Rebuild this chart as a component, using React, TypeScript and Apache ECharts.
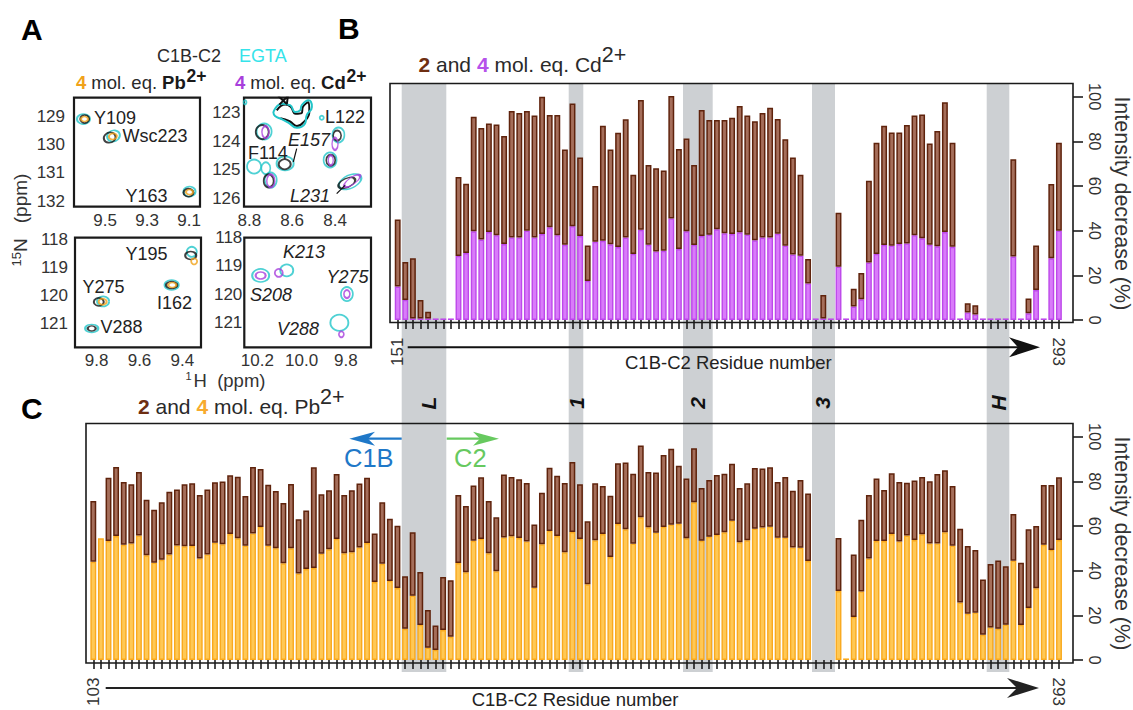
import React, { useEffect, useRef } from "react";
import * as echarts from "echarts";

// Panel B: intensity decrease (%) per assigned residue, Cd2+
const cd2 = [45,26,27.6,9,3.7,0.7,0.7,0.7,64,61,91,86,88,87.6,82.4,93.6,92.7,93.6,91.6,100,91.8,91.8,76.4,96.9,72.8,33.4,60,87,76.4,83.9,89.9,65,98.5,69.4,68,67,101,76.6,81.3,69.4,94,89.6,89.6,89.6,90.6,95.8,91.6,89,92.7,95,90,81,72.8,65,27.3,0.7,11.2,0.7,48,0.7,14,21,62.4,79.4,87,84,84,87.3,91.6,92,79,84.6,97.5,79.4,0.7,7.5,6.6,0.7,0.7,0.7,0.7,72,0.7,9.6,33.4,0.7,60.9,79.4];
const cd4 = [15,9,0.7,0.7,0.7,0.7,0.7,0.7,28.7,30,39.7,36,39.4,38,34,37,37,40,37,38.5,41.5,38,33.7,42,37.6,17.5,35,35.5,33.9,32.7,36.9,29.6,40.4,33.7,30.7,31,45.5,31.8,39.7,33.6,37.6,38.2,40.6,38.8,38.5,39.3,38.2,35.7,36.9,37,38.6,33.3,29.3,28.8,16.4,0.7,0.7,0.7,23.9,0.7,6,9.3,25.7,29.6,33.6,33.3,34,34.3,38,36.6,33.7,33,39.4,32.8,0.7,3.4,2.5,0.7,0.7,0.7,0.7,28.4,0.7,3,13.4,0.7,27.6,40];

// Panel C: intensity decrease (%) per assigned residue, Pb2+
const pb2 = [71.2,54.5,81.6,86.4,79.7,78.7,84.2,71.8,67.3,70.6,75.4,76.4,78.7,79.1,73.9,76.4,79.6,79.9,82.7,82.1,73.4,86.4,85.5,78.5,75.7,70.3,78.8,63,66.9,86.3,74.2,76,83.3,73.9,76,79,81.6,56.6,70.6,63.3,60.1,37.5,57.2,39.4,22.4,15.5,37.2,35.7,73.9,69,78.2,81.8,71.2,63.9,83.1,81.9,81,79.3,60.7,74.9,86.1,82.5,79.3,88.7,78.7,62.1,79.1,77.9,73.6,88.1,88.5,83.4,96.1,84.2,84,91.8,94.6,87,81.3,94.8,77,80.6,82.8,83.4,87.9,77,79.1,86,85.8,86.3,79.7,81.9,75.8,80.6,74.6,0,0,0,54.6,0.7,47.3,62.8,73.9,81.3,76.1,83.6,79.7,79.4,80.4,81.9,80,83.3,85,77.9,58.8,51,49.3,36.1,43,44.6,42,65.4,43.6,58.5,60,78.4,78.4,81.8];
const pb4 = [44,54.5,53.3,55.5,51.6,52.2,55.8,46.9,43.6,44.9,47.2,51.3,50.9,51,45.5,47.3,52.5,51.8,56.4,54.5,51.2,56.7,59.6,51.2,50.1,43.3,50,38.7,40.7,41.2,47.6,49.6,54.2,47.8,48.2,50.4,52.4,34.9,43.1,35.4,32.2,14,28.8,15.7,5.5,4.5,13.4,10.4,43.4,39.3,53.4,54.2,47.8,39.7,54.9,55.4,54.6,53.1,32.4,51.8,57.8,55.5,48.2,57.3,54.2,33.9,53.6,56.4,46.1,60.9,58.5,52.1,63.9,59.4,57,59.6,60.6,61,54.5,70.6,53.4,55.2,56,57.2,62.4,52.7,53.6,58.8,59.3,59.7,54.8,54.8,50.4,50.3,44.3,0,0,0,30.9,0.7,19.3,30.7,45.4,53.3,53.3,56.4,53.1,55.7,53.7,56.3,52.2,52.2,57.2,51.2,25.7,20.7,21.2,11.3,14.6,14,15.8,44.5,15.7,23.3,32.1,51.6,49.3,53.7];

const residueLabelsB = ["151", "293"];
const residueLabelsC = ["103", "293"];
const axisTitle = "C1B-C2 Residue number";
const yTitle = "Intensity decrease (%)";

// Panel A: peaks as [1H ppm, 15N ppm, contour width, contour height, tilt]
const pbTopEgta = [[9.603,129.08,13,10,0],[9.46,129.68,13,11,20],[9.098,131.66,12,10,0]];
const pbTopApo = [[9.597,129.08,9,8,0],[9.478,129.74,12,10,20],[9.103,131.7,10,8,0]];
const pbTopPb = [[9.598,129.08,7,5,0],[9.463,129.7,8,6,10],[9.098,131.68,7,5,0]];
const pbLowEgta = [[9.356,118.44,10,10,0],[9.45,119.62,14,10,0],[9.77,120.2,12,10,0],[9.823,121.16,13,8,0]];
const pbLowApo = [[9.361,118.57,11,8,0],[9.45,119.62,11,7,0],[9.79,120.22,10,8,0],[9.823,121.16,8,5,0]];
const pbLowPb = [[9.345,118.78,6,6,0],[9.447,119.62,8,5,0],[9.772,120.21,8,6,0]];
const cdTopEgta = [[8.731,123.66,15,16,0],[8.384,123.78,12,15,0],[8.423,124.65,13,15,0],[8.778,124.88,14,14,0],[8.633,124.77,17,14,0],[8.7,125.35,12,15,0],[8.33,125.41,24,13,25],[8.723,124.94,9,12,0],[8.462,123.18,4,4,0],[8.82,122.64,3,4,0]];
const cdTopApo = [[8.74,123.68,13,14,0],[8.39,123.8,8,10,0],[8.42,124.66,9,11,0],[8.635,124.8,12,10,0],[8.71,125.38,10,13,0],[8.345,125.45,18,9,25]];
const cdTopCd = [[8.725,123.68,7,12,0],[8.4,124.09,6,12,0],[8.42,124.66,5,10,0],[8.70,125.38,8,13,0],[8.32,125.38,19,7,35]];
const cdLowEgta = [[10.185,119.34,17,13,0],[10.067,119.16,13,12,0],[9.795,120,12,14,0],[9.829,121.02,18,16,0]];
const cdLowCd = [[10.185,119.34,10,7,0],[10.103,119.25,8,8,0],[9.795,120,6,8,0],[9.82,121.43,5,6,0]];
const blobEgta = [[8.688,122.98],[8.649,122.69],[8.61,122.74],[8.586,122.98],[8.563,122.92],[8.555,122.74],[8.524,122.57],[8.508,122.8],[8.532,123.09],[8.54,123.38],[8.578,123.53],[8.618,123.35],[8.649,123.23],[8.68,123.12],[8.688,122.98]];
const blobApo = [[8.672,122.92],[8.632,122.72],[8.607,122.8],[8.584,123.04],[8.556,123.02],[8.55,122.8],[8.524,122.64],[8.52,122.98],[8.548,123.34],[8.578,123.47],[8.612,123.3],[8.655,123.2]];
const blobCross = [[8.665,122.42],[8.625,122.7],[8.62,122.42],[8.66,122.72]];

const peakLabels = [
  ["Y109", 94, 118, false], ["Wsc223", 122.5, 136, false], ["Y163", 125.5, 196, false],
  ["Y195", 125.5, 254, false], ["Y275", 82.5, 287, false], ["I162", 157, 302.5, false], ["V288", 100.5, 327, false],
  ["L122", 325, 117, false], ["E157", 288, 140, true], ["F114", 248, 153, false], ["L231", 290, 196, true],
  ["K213", 283, 252, true], ["Y275", 326.5, 277, true], ["S208", 250, 295, true], ["V288", 277, 328.5, true],
] as const;

const bandLabels = [["L", 428], ["1", 576], ["2", 697.5], ["3", 822], ["H", 998.5]] as const;
const bands = [[401.7, 446.3], [568.7, 583.3], [683, 712.7], [812, 835], [986.7, 1009.3]];

const FONT = "Liberation Sans";
const INK = "#222";
const BROWN = "#5f230c", BROWN_FILL = "#a56e5a";
const PURPLE = "#bd48ea", PURPLE_FILL = "#d97bfa";
const AMBER = "#f9a91e", AMBER_FILL = "#ffc855";
const CYAN = "#22c5c9";
const LABEL_BROWN = "#6e2e12";

function barPair(lower: number[], upper: number[], xi: number, yi: number, edge: string, fill: string) {
  const base = { type: "bar", xAxisIndex: xi, yAxisIndex: yi, stack: "s" + yi, barWidth: 5.9, silent: true };
  return [
    { ...base, data: lower.map((v) => (v > 0 ? v : "-")), itemStyle: { color: fill, borderColor: edge, borderWidth: 1.4 } },
    { ...base, data: upper.map((v, i) => (v - lower[i] > 0 ? +(v - lower[i]).toFixed(1) : "-")), itemStyle: { color: BROWN_FILL, borderColor: BROWN, borderWidth: 1.5 } },
  ];
}

function peaks(data: number[][], i: number, color: string, width = 1.8) {
  return {
    type: "scatter", xAxisIndex: i, yAxisIndex: i, data, silent: true,
    symbol: "circle",
    symbolSize: (v: number[]) => [v[2], v[3]],
    symbolRotate: (v: number[]) => v[4],
    itemStyle: { color: "transparent", borderColor: color, borderWidth: width },
  };
}

function contour(data: number[][], i: number, color: string, smooth = 0.5) {
  return {
    type: "line", xAxisIndex: i, yAxisIndex: i, data, silent: true, smooth, symbol: "none", clip: true,
    lineStyle: { color, width: 2 },
  };
}

function nmrAxes(x: [number, number], xt: number[], y: [number, number], yt: number[], i: number, yMargin: number) {
  const labelStyle = { color: "#333", fontFamily: FONT, fontSize: 17 };
  return {
    x: {
      type: "value", gridIndex: i, inverse: true, min: x[0], max: x[1], axisLine: { show: false }, axisTick: { show: false }, splitLine: { show: false },
      axisLabel: { ...labelStyle, margin: 5, customValues: xt, formatter: (v: number) => v.toFixed(1), hideOverlap: false },
    },
    y: {
      type: "value", gridIndex: i, inverse: true, min: y[0], max: y[1], axisLine: { show: false }, axisTick: { show: false }, splitLine: { show: false },
      axisLabel: { ...labelStyle, margin: yMargin, customValues: yt, formatter: (v: number) => String(v), hideOverlap: false },
    },
  };
}

function residueAxes(gi: number, count: number, labels: string[]) {
  const categories = Array.from({ length: count }, (_, i) => (i === 0 ? labels[0] : i === count - 1 ? labels[1] : String(i)));
  const common = { type: "category", gridIndex: gi, data: categories, position: "bottom", offset: 2.5, axisLine: { show: false }, splitLine: { show: false } };
  const lab = { color: "#333", fontFamily: FONT, fontSize: 17, margin: 15, hideOverlap: false };
  return [
    {
      ...common,
      axisTick: { show: true, length: 9, alignWithLabel: true, interval: 0, lineStyle: { color: "#111", width: 1.5 } },
      axisLabel: { ...lab, rotate: 90, interval: (i: number) => i === 0 },
    },
    {
      ...common,
      axisTick: { show: false },
      axisLabel: { ...lab, rotate: -90, interval: (i: number) => i === count - 1 },
    },
  ];
}

function percentAxis(gi: number, offset: number) {
  return {
    type: "value", gridIndex: gi, position: "right", offset, min: 0, max: 100, interval: 20,
    axisLine: { show: false }, splitLine: { show: false },
    axisTick: { show: true, length: 10, lineStyle: { color: "#111", width: 1.5 } },
    axisLabel: { rotate: -90, color: "#333", fontFamily: FONT, fontSize: 16.5, margin: 13, hideOverlap: false },
    name: yTitle, nameLocation: "middle", nameRotate: -90, nameGap: 28,
    nameTextStyle: { color: "#333", fontFamily: FONT, fontSize: 21.5, padding: [0, 10, 0, 0] },
  };
}

function text(t: string, x: number, y: number, extra: any = {}, rotation = 0) {
  return {
    type: "text", x, y, rotation, z: 20, silent: true,
    style: { text: t, fontFamily: FONT, fontSize: 18, fill: INK, verticalAlign: "middle", align: "left", ...extra },
  };
}

function superTitle(t: string, x: number, y: number, accent: string) {
  return text(t, x, y, {
    fontSize: 21, fill: "#2a2a2a",
    rich: {
      br: { fontSize: 21, fontWeight: "bold", fill: LABEL_BROWN, fontFamily: FONT },
      ac: { fontSize: 21, fontWeight: "bold", fill: accent, fontFamily: FONT },
      sup: { fontSize: 21.5, fill: "#2a2a2a", fontFamily: FONT, padding: [0, 0, 18, 0] },
      n: { fontSize: 21, fill: "#2a2a2a", fontFamily: FONT },
    },
  });
}

function doseTitle(t: string, x: number, y: number, accent: string) {
  return text(t, x, y, {
    rich: {
      ac: { fontSize: 18.5, fontWeight: "bold", fill: accent, fontFamily: FONT },
      n: { fontSize: 18.5, fill: "#2a2a2a", fontFamily: FONT },
      b: { fontSize: 18.5, fontWeight: "bold", fill: "#1a1a1a", fontFamily: FONT },
    },
  });
}

function arrow(x0: number, tip: number, back: number, notch: number, y: number, half: number, color: string, width: number) {
  return [
    { type: "line", z: 20, silent: true, shape: { x1: x0, y1: y, x2: notch, y2: y }, style: { stroke: color, lineWidth: width } },
    { type: "polygon", z: 20, silent: true, shape: { points: [[tip, y], [back, y - half], [notch, y], [back, y + half]] }, style: { fill: color } },
  ];
}

function frameRect(x: number, y: number, width: number, height: number) {
  return { type: "rect", z: 15, silent: true, shape: { x, y, width, height }, style: { fill: "none", stroke: "#1a1a1a", lineWidth: 1.6 } };
}

export default function App() {
  const ref = useRef<HTMLDivElement>(null);

  useEffect(() => {
    const chart = echarts.init(ref.current!, null, { renderer: "svg" });

    const a1 = nmrAxes([9.048, 9.648], [9.5, 9.3, 9.1], [128.32, 132.2], [129, 130, 131, 132], 0, 9);
    const a2 = nmrAxes([8.232, 8.825], [8.8, 8.6, 8.4], [122.48, 126.28], [123, 124, 125, 126], 1, 3.5);
    const a3 = nmrAxes([9.313, 9.901], [9.8, 9.6, 9.4], [117.94, 121.83], [118, 119, 120, 121], 2, 7);
    const a4 = nmrAxes([9.686, 10.259], [10.2, 10.0, 9.8], [118, 121.89], [118, 119, 120, 121], 3, 2);
    const xB = residueAxes(4, cd2.length, residueLabelsB);
    const xC = residueAxes(5, pb2.length, residueLabelsC);

    const nmrFrame = { show: true, borderColor: "#1a1a1a", borderWidth: 2.2, backgroundColor: "transparent", outerBoundsMode: "none" };

    const option: any = {
      animation: false,
      backgroundColor: "#fff",
      grid: [
        { left: 74, top: 97.7, width: 126, height: 109, ...nmrFrame },
        { left: 244, top: 97.7, width: 127, height: 109, ...nmrFrame },
        { left: 75, top: 237.7, width: 126, height: 109.6, ...nmrFrame },
        { left: 244.3, top: 237.7, width: 126.7, height: 109.6, ...nmrFrame },
        { left: 393.9, top: 96.7, width: 668.8, height: 223.3, outerBoundsMode: "none" },
        { left: 89.5, top: 436.7, width: 973.3, height: 223.3, outerBoundsMode: "none" },
      ],
      xAxis: [a1.x, a2.x, a3.x, a4.x, ...xB, ...xC],
      yAxis: [a1.y, a2.y, a3.y, a4.y, percentAxis(4, 10.3), percentAxis(5, 10.2)],
      series: [
        peaks(pbTopEgta, 0, CYAN), peaks(pbTopApo, 0, "#111"), peaks(pbTopPb, 0, "#f0a21a"),
        peaks(cdTopEgta, 1, CYAN), peaks(cdTopApo, 1, "#111"), peaks(cdTopCd, 1, "#a83fdc"),
        contour(blobApo, 1, "#111"), contour(blobEgta, 1, CYAN), contour(blobCross, 1, "#111", 0),
        peaks(pbLowEgta, 2, CYAN), peaks(pbLowApo, 2, "#111"), peaks(pbLowPb, 2, "#f0a21a"),
        peaks(cdLowEgta, 3, CYAN), peaks(cdLowCd, 3, "#a83fdc"),
        ...barPair(cd4, cd2, 4, 4, PURPLE, PURPLE_FILL),
        ...barPair(pb4, pb2, 6, 5, AMBER, AMBER_FILL),
      ],
      graphic: {
        elements: [
          ...bands.map(([a, b]) => ({
            type: "rect", z: -10, silent: true,
            shape: { x: a, y: 83.5, width: b - a, height: 588.5 },
            style: { fill: "#cdd0d3" },
          })),
          frameRect(390, 83.5, 683, 239),
          frameRect(86, 423.5, 987, 239.5),
          text("A", 21, 29, { fontSize: 30, fontWeight: "bold", fill: "#000" }),
          text("B", 338, 28, { fontSize: 30, fontWeight: "bold", fill: "#000" }),
          text("C", 21, 408, { fontSize: 30, fontWeight: "bold", fill: "#000" }),
          text("C1B-C2", 157, 56, { fontSize: 18, fill: "#2a2a2a" }),
          text("EGTA", 239, 56, { fontSize: 18, fill: "#35e3ea" }),
          doseTitle("{ac|4} {n|mol. eq.} {b|Pb}", 76, 82, "#f0a21a"),
          text("2+", 186.5, 75.5, { fontSize: 17.5, fontWeight: "bold", fill: "#1a1a1a" }),
          doseTitle("{ac|4} {n|mol. eq.} {b|Cd}", 235, 82, "#a83fdc"),
          text("2+", 346.5, 75.5, { fontSize: 17.5, fontWeight: "bold", fill: "#1a1a1a" }),
          superTitle("{br|2} {n|and} {ac|4} {n|mol. eq. Cd}{sup|2+}", 418.5, 64, "#b552ea"),
          superTitle("{br|2} {n|and} {ac|4} {n|mol. eq. Pb}{sup|2+}", 138, 406, "#f7ab2e"),
          ...peakLabels.map(([t, x, y, italic]) => text(t, x, y, { fontSize: 18, fontStyle: italic ? "italic" : "normal" })),
          text("{s|15}{n|N}   {n|(ppm)}", 20.5, 220, {
            align: "center",
            rich: { s: { fontSize: 13, fill: "#333", fontFamily: FONT, padding: [0, 0, 8, 0] }, n: { fontSize: 19, fill: "#333", fontFamily: FONT } },
          }, Math.PI / 2),
          text("1", 185.5, 376, { fontSize: 11, fill: "#333" }),
          text("H  (ppm)", 193.5, 380, { fontSize: 18.5, fill: "#333" }),
          { type: "line", z: 20, silent: true, shape: { x1: 296.7, y1: 148.7, x2: 293.3, y2: 162 }, style: { stroke: "#111", lineWidth: 1.2 } },
          { type: "line", z: 20, silent: true, shape: { x1: 336.7, y1: 193.7, x2: 345, y2: 185.3 }, style: { stroke: "#111", lineWidth: 1.2 } },
          ...arrow(407.7, 1040, 1009, 1018, 347.3, 10, "#111", 2),
          ...arrow(105.7, 1039, 1007, 1017, 688, 10, "#222", 2),
          text(axisTitle, 625, 362.5, { fontSize: 18.5 }),
          text(axisTitle, 471.7, 699.5, { fontSize: 18.5 }),
          ...arrow(401.7, 349.3, 375, 368, 438.7, 7, "#1f78c8", 2.2),
          ...arrow(446.7, 499, 473, 480, 438.7, 7, "#67c95f", 2.2),
          text("C1B", 344, 458, { fontSize: 25.5, fill: "#1f78c8" }),
          text("C2", 454, 458, { fontSize: 25.5, fill: "#67c95f" }),
          ...bandLabels.map(([t, x]) => text(t, x, 403, { fontSize: 21, fontWeight: "bold", fontStyle: "italic", fill: "#111", align: "center" }, Math.PI / 2)),
        ],
      },
    };

    chart.setOption(option);
    return () => chart.dispose();
  }, []);

  return <div ref={ref} style={{ position: "absolute", left: 0, top: 0, width: 1133, height: 710, background: "#fff" }} />;
}
